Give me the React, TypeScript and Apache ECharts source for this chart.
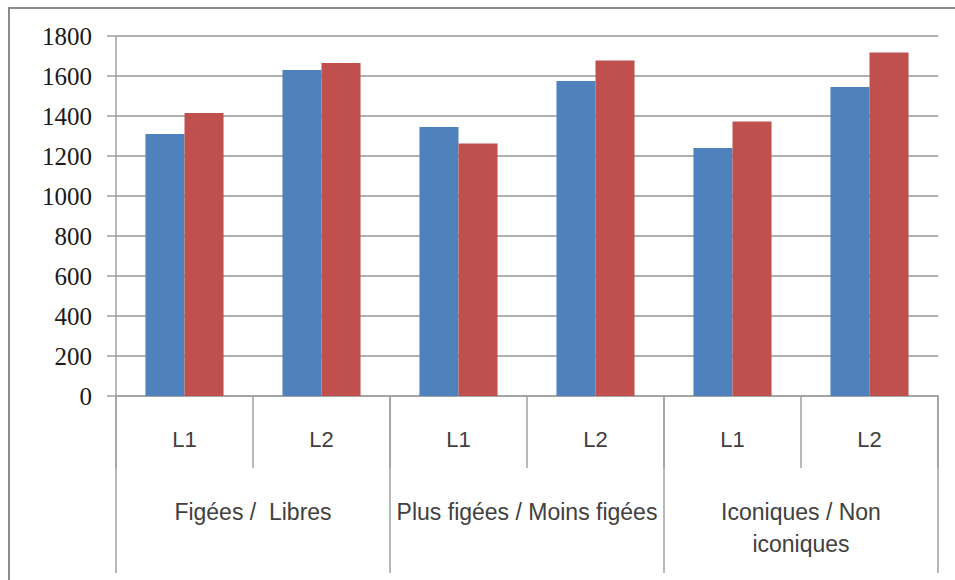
import React, { useEffect, useRef } from "react";
import * as echarts from "echarts";

const subCategories = ["L1", "L2", "L1", "L2", "L1", "L2"];
const groupCategories = ["Figées /  Libres", "Plus figées / Moins figées", "Iconiques / Non\niconiques"];
const blueValues = [1310, 1630, 1345, 1575, 1240, 1545];
const redValues = [1415, 1665, 1262, 1678, 1372, 1718];
const yTicks = { min: 0, max: 1800, interval: 200 };

export default function App() {
  const ref = useRef<HTMLDivElement>(null);
  useEffect(() => {
    if (!ref.current) return;
    const chart = echarts.init(ref.current, undefined, { renderer: "svg" });
    const axisGray = "#a0a0a0";
    chart.setOption({
      animation: false,
      backgroundColor: "#ffffff",
      graphic: [
        {
          type: "rect",
          shape: { x: 9, y: 8, width: 1000, height: 1000 },
          style: { fill: "none", stroke: "#8a8a8a", lineWidth: 2 },
          z: 0,
        },
      ],
      grid: { left: 116, right: 17, top: 36, bottom: 184, containLabel: false },
      xAxis: [
        {
          type: "category",
          data: subCategories,
          position: "bottom",
          axisLine: { show: true, lineStyle: { color: axisGray, width: 1.5 } },
          axisTick: { show: true, interval: 0, length: 72, lineStyle: { color: axisGray, width: 1.5 } },
          axisLabel: {
            interval: 0,
            margin: 27,
            color: "#404040",
            fontFamily: "Liberation Sans",
            fontSize: 22,
            lineHeight: 32,
          },
        },
        {
          type: "category",
          data: groupCategories,
          position: "bottom",
          axisLine: { show: false },
          axisTick: { show: true, interval: 0, length: 177, lineStyle: { color: axisGray, width: 1.5 } },
          axisLabel: {
            interval: 0,
            margin: 100,
            color: "#404040",
            fontFamily: "Liberation Sans",
            fontSize: 23,
            lineHeight: 32,
            align: "center",
          },
        },
      ],
      yAxis: {
        type: "value",
        min: yTicks.min,
        max: yTicks.max,
        interval: yTicks.interval,
        axisLine: { show: true, lineStyle: { color: axisGray, width: 1.5 } },
        axisTick: { show: true, length: 9, lineStyle: { color: axisGray, width: 1.5 } },
        splitLine: { show: true, lineStyle: { color: "#b0b0b0", width: 2 } },
        axisLabel: {
          margin: 24,
          color: "#1a1a1a",
          fontFamily: "Liberation Serif",
          fontSize: 25,
          formatter: (v: number) => String(v),
        },
      },
      series: [
        {
          type: "bar",
          xAxisIndex: 0,
          data: blueValues,
          itemStyle: { color: "#4F81BD" },
          barGap: "0%",
          barCategoryGap: "43%",
        },
        {
          type: "bar",
          xAxisIndex: 0,
          data: redValues,
          itemStyle: { color: "#C0504D" },
          barGap: "0%",
          barCategoryGap: "43%",
        },
      ],
    });
    return () => chart.dispose();
  }, []);
  return (
    <div
      ref={ref}
      style={{ position: "absolute", left: 0, top: 0, width: 955, height: 580 }}
    />
  );
}
